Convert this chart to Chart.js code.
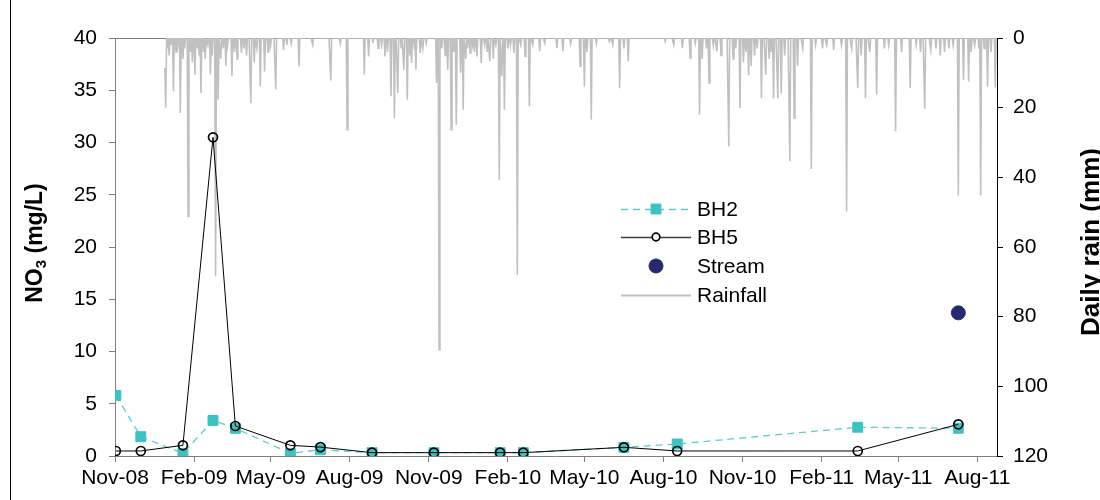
<!DOCTYPE html>
<html>
<head>
<meta charset="utf-8">
<title>NO3 and daily rain</title>
<script src="https://cdn.jsdelivr.net/npm/chart.js@4.4.0/dist/chart.umd.min.js"></script>
<style>
  html, body { margin: 0; padding: 0; background: #fff; }
  #wrap { width: 1100px; height: 500px; }
</style>
</head>
<body>
<div id="wrap"><canvas id="no3Chart" width="1100" height="500"></canvas></div>
<script>
// ===================== data =====================
const tickLabels = ['Nov-08', 'Feb-09', 'May-09', 'Aug-09', 'Nov-09', 'Feb-10',
                    'May-10', 'Aug-10', 'Nov-10', 'Feb-11', 'May-11', 'Aug-11'];
const tickDates = ['2008-11-01', '2009-02-01', '2009-05-01', '2009-08-01', '2009-11-01', '2010-02-01',
                   '2010-05-01', '2010-08-01', '2010-11-01', '2011-02-01', '2011-05-01', '2011-08-01'];
const axisEndDate = '2011-08-24';

const sampleDates = ['2008-11-02', '2008-12-01', '2009-01-19', '2009-02-23', '2009-03-21',
                     '2009-05-24', '2009-06-28', '2009-08-27', '2009-11-07', '2010-01-23',
                     '2010-02-19', '2010-06-16', '2010-08-17', '2011-03-15', '2011-07-10'];
const bh2 = [5.8, 1.85, 0.25, 3.4, 2.65, 0.25, 0.6, 0.32, 0.32, 0.32, 0.32, 0.83, 1.15, 2.75, 2.65];
const bh5 = [0.48, 0.48, 1.02, 30.5, 2.87, 1.02, 0.85, 0.32, 0.32, 0.32, 0.32, 0.83, 0.48, 0.48, 3.03];

const streamDates = ['2011-07-10'];
const stream = [13.7];

// daily rain: day number counted from 1 Nov 2008, mm. days not listed were dry
const rainFirstDay = 58;
const rainLastDay = 1026;
const rainDays = [58, 59, 61, 63, 65, 68, 71, 73, 76, 79, 81, 85, 88, 90, 93, 96, 98, 100, 103, 105,
  108, 111, 113, 117, 120, 123, 126, 129, 131, 136, 139, 142, 147, 150, 153, 158, 162, 165, 169, 174,
  178, 181, 187, 196, 200, 205, 214, 230, 251, 262, 270, 290, 295, 300, 306, 310, 314, 317, 321, 325,
  329, 333, 336, 340, 343, 345, 348, 350, 355, 358, 362, 374, 377, 380, 384, 387, 391, 394, 397, 402,
  405, 408, 410, 413, 416, 418, 421, 426, 430, 433, 436, 440, 443, 447, 450, 453, 457, 460, 464, 468,
  472, 477, 482, 486, 494, 500, 514, 521, 530, 541, 546, 549, 554, 560, 575, 579, 587, 592, 597, 640,
  650, 660, 669, 675, 680, 683, 688, 691, 696, 700, 705, 714, 719, 722, 727, 731, 734, 737, 740, 744,
  747, 752, 757, 761, 763, 766, 771, 775, 779, 785, 790, 794, 800, 810, 815, 823, 828, 836, 845, 851,
  857, 864, 868, 873, 878, 886, 895, 900, 908, 915, 925, 932, 937, 942, 949, 955, 960, 965, 970, 975,
  981, 987, 993, 996, 1000, 1005, 1007, 1011, 1015, 1019, 1024];
const rainMm = [8.6, 20, 3, 5, 2, 15.3, 4, 2, 21.5, 6, 3, 51.2, 4, 7, 10.5, 3, 5, 15.8, 4, 6,
  2, 10.5, 5, 68.4, 17.7, 6, 3, 8, 2, 11, 4, 6, 4.3, 3, 5, 18.7, 7, 3, 13.9, 9.6,
  4, 2, 14.8, 3.4, 2, 1.5, 8.1, 2, 12.2, 1.5, 26.3, 10.5, 5.3, 1.5, 2.9, 2, 5.3, 4, 16.7, 23,
  15.8, 3, 9.1, 17.7, 5, 7.2, 2, 9.1, 4.3, 3, 1.5, 12.9, 89.5, 3, 5, 9.1, 26.3, 4, 24.9, 10,
  20.6, 6, 3, 4.3, 2, 4, 5.3, 7.2, 2, 4, 6.7, 6, 2, 40.7, 11, 20.6, 3, 2, 4.3, 68,
  2, 5.3, 19.6, 2, 3.8, 1.5, 2.9, 3.8, 1.5, 8.1, 13.9, 4, 23.4, 1.5, 1, 2, 14.4, 3, 6.7, 1,
  2, 2.9, 5.7, 1.5, 22, 6, 3, 12.9, 2, 3.8, 5, 31.1, 6, 3, 20.1, 7, 4, 10.7, 8, 5,
  3, 17.2, 10.6, 6, 4, 17.3, 17.3, 15.9, 5, 35.4, 23, 8, 3, 37.6, 2, 3, 2, 3.4, 2, 49.8,
  3, 14.4, 5, 17.2, 4, 16.2, 3, 2, 26.8, 4, 14.4, 2, 4, 20.3, 3.5, 3, 5, 4, 3, 2,
  45.2, 12, 12.5, 4, 2, 3, 45.2, 3, 14, 4, 14.2];

// ===================== helpers =====================
const DAY_MS = 86400000;
const originUTC = Date.UTC(2008, 10, 1);
function dayOf(dateStr) {
  const [y, m, d] = dateStr.split('-').map(Number);
  return Math.round((Date.UTC(y, m - 1, d) - originUTC) / DAY_MS);
}
const tickDays = tickDates.map(dayOf);

function toPoints(dates, values) {
  return dates.map((d, i) => ({ x: dayOf(d), y: values[i] }));
}

function buildRain() {
  const byDay = {};
  rainDays.forEach((d, i) => { byDay[d] = rainMm[i]; });
  const pts = [];
  for (let d = rainFirstDay; d <= rainLastDay; d++) pts.push({ x: d, y: byDay[d] || 0 });
  return pts;
}

const FONT = "'Liberation Sans', Arial, sans-serif";
Chart.defaults.font.family = FONT;
Chart.defaults.font.size = 21;
Chart.defaults.color = '#000';

// ===================== plugins =====================
const framePlugin = {
  id: 'frame',
  beforeDatasetsDraw(chart) {
    const { ctx, chartArea } = chart;
    ctx.save();
    ctx.strokeStyle = '#808080';
    ctx.lineWidth = 1;
    ctx.beginPath();
    ctx.moveTo(chartArea.left, chartArea.top + 0.5);
    ctx.lineTo(chartArea.right, chartArea.top + 0.5);
    ctx.stroke();
    ctx.strokeStyle = '#000';
    ctx.beginPath();
    ctx.moveTo(10.5, 0);
    ctx.lineTo(10.5, 500);
    ctx.stroke();
    ctx.restore();
  }
};

const titlesPlugin = {
  id: 'axisTitles',
  afterDraw(chart) {
    const ctx = chart.ctx;
    ctx.save();
    ctx.fillStyle = '#000';
    ctx.textBaseline = 'alphabetic';
    ctx.textAlign = 'left';

    // left: NO3 (mg/L) with subscript 3
    const big = 'bold 23px ' + FONT;
    const small = 'bold 15px ' + FONT;
    ctx.font = big;
    const w1 = ctx.measureText('NO').width;
    const w3 = ctx.measureText(' (mg/L)').width;
    ctx.font = small;
    const w2 = ctx.measureText('3').width;
    const total = w1 + w2 + w3;
    ctx.translate(42, 243);
    ctx.rotate(-Math.PI / 2);
    let x = -total / 2;
    ctx.font = big;
    ctx.fillText('NO', x, 0);
    x += w1;
    ctx.font = small;
    ctx.fillText('3', x, 4);
    x += w2;
    ctx.font = big;
    ctx.fillText(' (mg/L)', x, 0);
    ctx.restore();

    // right: Daily rain (mm), partly cut by the picture edge as in the figure
    ctx.save();
    ctx.fillStyle = '#000';
    ctx.textBaseline = 'alphabetic';
    ctx.textAlign = 'center';
    ctx.font = 'bold 26px ' + FONT;
    ctx.translate(1099, 242);
    ctx.rotate(-Math.PI / 2);
    ctx.fillText('Daily rain (mm)', 0, 0);
    ctx.restore();
  }
};

const legendPlugin = {
  id: 'insideLegend',
  afterDraw(chart) {
    const ctx = chart.ctx;
    const x0 = 621, x1 = 691, mx = 656, tx = 697;
    const rowY = [209, 237, 266, 295];
    ctx.save();
    chart.data.datasets.forEach((ds, i) => {
      const y = rowY[i];
      if (ds.showLine !== false) {
        ctx.strokeStyle = ds.legendLineColor || ds.borderColor;
        ctx.lineWidth = ds.legendLineWidth || ds.borderWidth;
        ctx.setLineDash(ds.borderDash || []);
        ctx.beginPath();
        ctx.moveTo(x0, y + 0.5);
        ctx.lineTo(x1, y + 0.5);
        ctx.stroke();
        ctx.setLineDash([]);
      }
      if (ds.pointRadius > 0) {
        ctx.fillStyle = ds.pointBackgroundColor === 'rgba(0,0,0,0)' ? '#fff' : ds.pointBackgroundColor;
        ctx.strokeStyle = ds.pointBorderColor;
        ctx.lineWidth = ds.pointBorderWidth;
        Chart.helpers.drawPoint(ctx, {
          pointStyle: ds.pointStyle,
          rotation: 0,
          radius: ds.legendPointRadius || ds.pointRadius,
          borderWidth: ds.pointBorderWidth
        }, mx, y);
      }
      ctx.fillStyle = '#000';
      ctx.font = '21px ' + FONT;
      ctx.textBaseline = 'middle';
      ctx.textAlign = 'left';
      ctx.fillText(ds.label, tx, y + 1);
    });
    ctx.restore();
  }
};

// ===================== chart =====================
function renderNo3Chart() {
  const canvas = document.getElementById('no3Chart');
  if (!canvas) return;
  const ctx = canvas.getContext('2d');

  new Chart(ctx, {
    type: 'line',
    data: {
      datasets: [
        {
          label: 'BH2',
          data: toPoints(sampleDates, bh2),
          yAxisID: 'y',
          order: 2,
          borderColor: '#5ECDCD',
          borderWidth: 1.3,
          borderDash: [7, 5],
          pointStyle: 'rect',
          pointRadius: 7,
          pointBackgroundColor: '#3DC2C2',
          pointBorderColor: '#3DC2C2',
          pointBorderWidth: 1
        },
        {
          label: 'BH5',
          data: toPoints(sampleDates, bh5),
          yAxisID: 'y',
          order: 1,
          borderColor: '#000',
          borderWidth: 1,
          legendLineColor: '#404040',
          legendLineWidth: 1.5,
          pointStyle: 'circle',
          pointRadius: 4.5,
          legendPointRadius: 3.8,
          pointBackgroundColor: 'rgba(0,0,0,0)',
          pointBorderColor: '#000',
          pointBorderWidth: 1.7
        },
        {
          label: 'Stream',
          data: toPoints(streamDates, stream),
          yAxisID: 'y',
          order: 1,
          showLine: false,
          borderColor: '#262A6C',
          pointStyle: 'circle',
          pointRadius: 7,
          pointBackgroundColor: '#262A6C',
          pointBorderColor: '#262A6C',
          pointBorderWidth: 1
        },
        {
          label: 'Rainfall',
          data: buildRain(),
          yAxisID: 'yRain',
          order: 3,
          borderColor: '#C0C0C0',
          borderWidth: 1.6,
          legendLineWidth: 2,
          pointRadius: 0,
          tension: 0
        }
      ]
    },
    options: {
      responsive: false,
      animation: false,
      layout: { padding: { top: 38, left: 0, right: 0, bottom: 0 } },
      plugins: {
        legend: { display: false },
        tooltip: { enabled: false }
      },
      scales: {
        x: {
          type: 'linear',
          min: 0,
          max: dayOf(axisEndDate),
          afterBuildTicks: scale => { scale.ticks = tickDays.map(v => ({ value: v })); },
          afterFit: scale => { scale.height = 44; },
          ticks: {
            autoSkip: false,
            maxRotation: 0,
            padding: 4,
            callback: value => tickLabels[tickDays.indexOf(value)]
          },
          grid: { drawOnChartArea: false, tickLength: 6, color: '#808080' },
          border: { color: '#808080' }
        },
        y: {
          position: 'left',
          min: 0,
          max: 40,
          afterFit: scale => { scale.width = 115; },
          ticks: { stepSize: 5, padding: 12 },
          grid: { drawOnChartArea: false, tickLength: 6, color: '#808080' },
          border: { color: '#808080' }
        },
        yRain: {
          position: 'right',
          reverse: true,
          min: 0,
          max: 120,
          afterFit: scale => { scale.width = 103; },
          ticks: { stepSize: 20, padding: 10 },
          grid: { drawOnChartArea: false, tickLength: 6, color: '#000' },
          border: { color: '#000' }
        }
      }
    },
    plugins: [framePlugin, titlesPlugin, legendPlugin]
  });
}

document.addEventListener('DOMContentLoaded', () => {
  renderNo3Chart();
});
</script>
</body>
</html>
